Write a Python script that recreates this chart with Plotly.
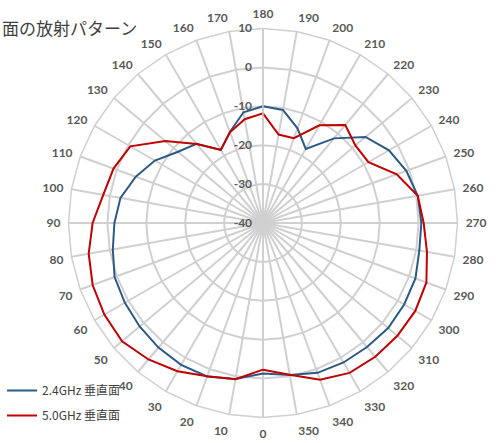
import plotly.graph_objects as go

angles = [str(a) for a in range(0, 360, 10)]

blue_24 = [-1.3, 0.7, 2.0, 2.1, 1.8, 1.4, 1.0, 0.6, -0.8, -1.8,
           -2.8, -5.2, -7.9, -11.5, -13.4, -18.3, -15.1, -11.1, -10.0, -10.5,
           -14.1, -18.0, -11.6, -5.6, -2.6, -0.8, 0.4, 0.7, 0.8, 1.7,
           1.9, 2.0, 1.6, 1.4, 1.0, -0.3]

red_50 = [-2.3, 0.8, 1.9, 4.0, 5.8, 7.3, 7.1, 6.6, 5.5, 3.8,
          1.7, 0.9, -0.6, -7.2, -13.5, -18.3, -15.2, -12.9, -11.8, -16.9,
          -16.8, -11.0, -7.1, -9.0, -8.7, -3.4, 0.4, 1.3, 2.8, 4.7,
          5.2, 5.1, 4.9, 4.5, 2.9, -0.4]

radial_ticks = [-40, -30, -20, -10, 0, 10]
series_names = ["2.4GHz 垂直面", "5.0GHz 垂直面"]
series_colors = ["#2C5A85", "#C00000"]
title_text = "面の放射パターン"

W, H = 496, 443

fig = go.Figure()
for i, (name, vals, col) in enumerate(zip(series_names, [blue_24, red_50], series_colors)):
    fig.add_trace(go.Scatterpolar(
        r=vals + vals[:1],
        theta=angles + angles[:1],
        mode="lines",
        name=name,
        legendgroup=f"g{i}",
        line=dict(color=col, width=2),
    ))

grid = "#D0D0D0"
tick_font = dict(size=12, color="#595959", family="Lato, Liberation Sans, sans-serif", weight="bold")
cx, cy, R = 263, 223, 194.5
fig.update_layout(
    width=W, height=H,
    margin=dict(l=0, r=0, t=0, b=0),
    paper_bgcolor="white",
    font=dict(family="Noto Sans CJK JP, Noto Sans, sans-serif", color="#595959"),
    polar=dict(
        domain=dict(x=[(cx - R) / W, (cx + R) / W], y=[(H - cy - R) / H, (H - cy + R) / H]),
        bgcolor="white",
        gridshape="linear",
        angularaxis=dict(
            type="category",
            categoryarray=angles,
            rotation=270,
            direction="clockwise",
            showgrid=True,
            gridcolor=grid,
            gridwidth=1.5,
            showline=True,
            linecolor=grid,
            linewidth=1.5,
            ticks="outside",
            ticklen=5,
            tickcolor="rgba(0,0,0,0)",
            tickfont=tick_font,
        ),
        radialaxis=dict(
            range=[-40, 10],
            tickvals=radial_ticks,
            ticktext=[str(v) for v in radial_ticks],
            angle=90,
            tickangle=90,
            side="counterclockwise",
            showline=True,
            linecolor=grid,
            linewidth=1.5,
            showgrid=True,
            gridcolor=grid,
            gridwidth=1.5,
            ticks="outside",
            ticklen=6,
            tickcolor="rgba(0,0,0,0)",
            tickfont=tick_font,
        ),
    ),
    showlegend=True,
    legend=dict(
        x=2 / W, y=1 - 376 / H, xanchor="left", yanchor="top",
        bgcolor="rgba(0,0,0,0)",
        font=dict(size=12, color="#404040"),
        itemwidth=30,
        tracegroupgap=6,
    ),
)
fig.add_annotation(
    text=title_text, xref="paper", yref="paper",
    x=0.0, y=1 - 28 / H, xanchor="left", yanchor="middle",
    showarrow=False,
    font=dict(size=17, color="#404040", family="Noto Sans CJK JP, sans-serif"),
)

fig.write_html("out.html", config={"displayModeBar": False},
               post_script="document.body.style.margin='0';")
